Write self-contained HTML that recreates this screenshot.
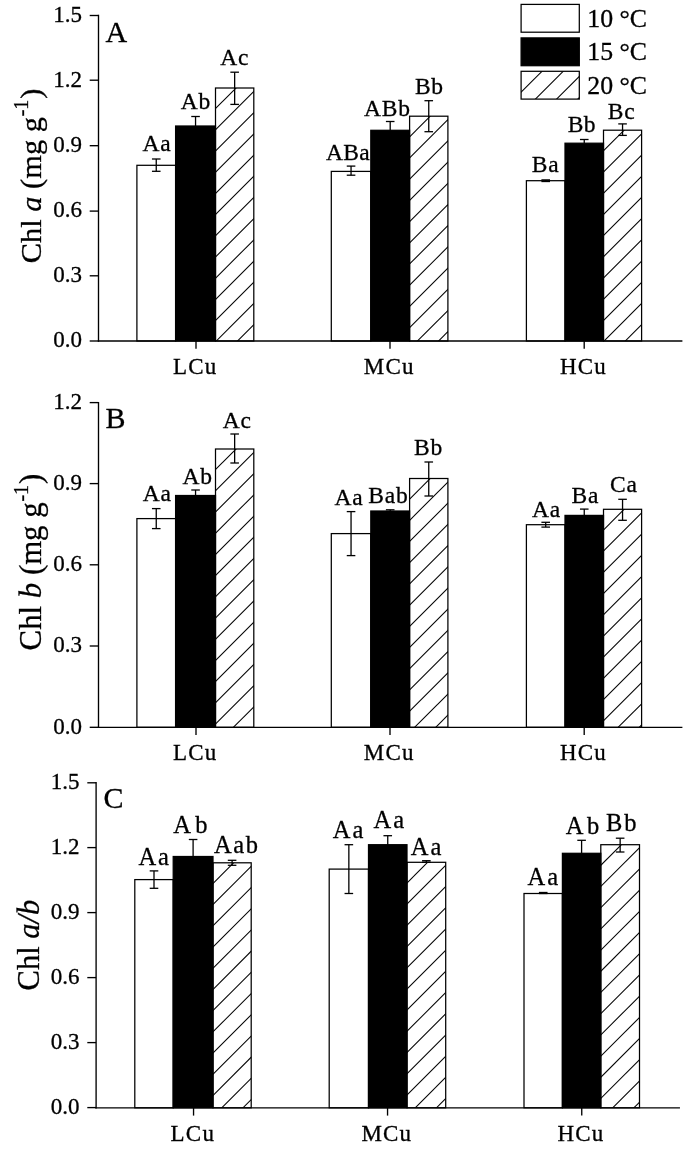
<!DOCTYPE html>
<html><head><meta charset="utf-8"><title>Chlorophyll</title>
<style>
html,body{margin:0;padding:0;background:#fff;}
body{width:685px;height:1159px;overflow:hidden;font-family:"Liberation Serif",serif;}
svg{display:block;filter:blur(0.3px);}
svg text{font-family:"Liberation Serif",serif;fill:#000;stroke:#000;stroke-width:0.3px;}
</style></head><body>
<svg width="685" height="1159" viewBox="0 0 685 1159">
<rect width="685" height="1159" fill="#fff"/>
<rect x="136.90" y="165.30" width="38.70" height="175.70" fill="#fff" stroke="#000" stroke-width="1.25"/>
<clipPath id="c1"><rect x="215.50" y="88.00" width="38.30" height="253.00"/></clipPath>
<rect x="215.50" y="88.00" width="38.30" height="253.00" fill="#fff"/>
<g clip-path="url(#c1)" stroke="#000" stroke-width="1.05">
<line x1="214.50" y1="109.60" x2="254.80" y2="69.30"/>
<line x1="214.50" y1="130.80" x2="254.80" y2="90.50"/>
<line x1="214.50" y1="152.00" x2="254.80" y2="111.70"/>
<line x1="214.50" y1="173.20" x2="254.80" y2="132.90"/>
<line x1="214.50" y1="194.40" x2="254.80" y2="154.10"/>
<line x1="214.50" y1="215.60" x2="254.80" y2="175.30"/>
<line x1="214.50" y1="236.80" x2="254.80" y2="196.50"/>
<line x1="214.50" y1="258.00" x2="254.80" y2="217.70"/>
<line x1="214.50" y1="279.20" x2="254.80" y2="238.90"/>
<line x1="214.50" y1="300.40" x2="254.80" y2="260.10"/>
<line x1="214.50" y1="321.60" x2="254.80" y2="281.30"/>
<line x1="214.50" y1="342.80" x2="254.80" y2="302.50"/>
<line x1="214.50" y1="364.00" x2="254.80" y2="323.70"/>
</g>
<rect x="215.50" y="88.00" width="38.30" height="253.00" fill="none" stroke="#000" stroke-width="1.25"/>
<rect x="175.60" y="126.00" width="39.90" height="215.00" fill="#000" stroke="#000" stroke-width="1.25"/>
<line x1="156.25" y1="159.00" x2="156.25" y2="171.30" stroke="#000" stroke-width="1.3"/>
<line x1="151.95" y1="159.00" x2="160.55" y2="159.00" stroke="#000" stroke-width="1.3"/>
<line x1="151.95" y1="171.30" x2="160.55" y2="171.30" stroke="#000" stroke-width="1.3"/>
<text x="157.00" y="150.80" font-size="23.5" text-anchor="middle" letter-spacing="0.8">Aa</text>
<line x1="195.55" y1="116.50" x2="195.55" y2="126.00" stroke="#000" stroke-width="1.3"/>
<line x1="191.25" y1="116.50" x2="199.85" y2="116.50" stroke="#000" stroke-width="1.3"/>
<text x="196.00" y="108.60" font-size="23.5" text-anchor="middle" letter-spacing="0.8">Ab</text>
<line x1="234.65" y1="72.20" x2="234.65" y2="104.40" stroke="#000" stroke-width="1.3"/>
<line x1="230.35" y1="72.20" x2="238.95" y2="72.20" stroke="#000" stroke-width="1.3"/>
<line x1="230.35" y1="104.40" x2="238.95" y2="104.40" stroke="#000" stroke-width="1.3"/>
<text x="234.70" y="65.20" font-size="23.5" text-anchor="middle" letter-spacing="0.8">Ac</text>
<rect x="331.30" y="171.40" width="39.50" height="169.60" fill="#fff" stroke="#000" stroke-width="1.25"/>
<clipPath id="c2"><rect x="409.60" y="116.20" width="38.30" height="224.80"/></clipPath>
<rect x="409.60" y="116.20" width="38.30" height="224.80" fill="#fff"/>
<g clip-path="url(#c2)" stroke="#000" stroke-width="1.05">
<line x1="408.60" y1="137.80" x2="448.90" y2="97.50"/>
<line x1="408.60" y1="159.00" x2="448.90" y2="118.70"/>
<line x1="408.60" y1="180.20" x2="448.90" y2="139.90"/>
<line x1="408.60" y1="201.40" x2="448.90" y2="161.10"/>
<line x1="408.60" y1="222.60" x2="448.90" y2="182.30"/>
<line x1="408.60" y1="243.80" x2="448.90" y2="203.50"/>
<line x1="408.60" y1="265.00" x2="448.90" y2="224.70"/>
<line x1="408.60" y1="286.20" x2="448.90" y2="245.90"/>
<line x1="408.60" y1="307.40" x2="448.90" y2="267.10"/>
<line x1="408.60" y1="328.60" x2="448.90" y2="288.30"/>
<line x1="408.60" y1="349.80" x2="448.90" y2="309.50"/>
<line x1="408.60" y1="371.00" x2="448.90" y2="330.70"/>
</g>
<rect x="409.60" y="116.20" width="38.30" height="224.80" fill="none" stroke="#000" stroke-width="1.25"/>
<rect x="370.80" y="130.30" width="38.80" height="210.70" fill="#000" stroke="#000" stroke-width="1.25"/>
<line x1="351.05" y1="166.10" x2="351.05" y2="175.20" stroke="#000" stroke-width="1.3"/>
<line x1="346.75" y1="166.10" x2="355.35" y2="166.10" stroke="#000" stroke-width="1.3"/>
<line x1="346.75" y1="175.20" x2="355.35" y2="175.20" stroke="#000" stroke-width="1.3"/>
<text x="348.05" y="160.40" font-size="23.5" text-anchor="middle" letter-spacing="0.3">ABa</text>
<line x1="390.20" y1="121.50" x2="390.20" y2="130.30" stroke="#000" stroke-width="1.3"/>
<line x1="385.90" y1="121.50" x2="394.50" y2="121.50" stroke="#000" stroke-width="1.3"/>
<text x="387.40" y="116.20" font-size="23.5" text-anchor="middle" letter-spacing="0.8">ABb</text>
<line x1="428.75" y1="100.70" x2="428.75" y2="131.70" stroke="#000" stroke-width="1.3"/>
<line x1="424.45" y1="100.70" x2="433.05" y2="100.70" stroke="#000" stroke-width="1.3"/>
<line x1="424.45" y1="131.70" x2="433.05" y2="131.70" stroke="#000" stroke-width="1.3"/>
<text x="429.40" y="93.90" font-size="23.5" text-anchor="middle" letter-spacing="0.8">Bb</text>
<rect x="526.40" y="180.70" width="38.60" height="160.30" fill="#fff" stroke="#000" stroke-width="1.25"/>
<clipPath id="c3"><rect x="603.50" y="130.20" width="38.10" height="210.80"/></clipPath>
<rect x="603.50" y="130.20" width="38.10" height="210.80" fill="#fff"/>
<g clip-path="url(#c3)" stroke="#000" stroke-width="1.05">
<line x1="602.50" y1="151.80" x2="642.60" y2="111.70"/>
<line x1="602.50" y1="173.00" x2="642.60" y2="132.90"/>
<line x1="602.50" y1="194.20" x2="642.60" y2="154.10"/>
<line x1="602.50" y1="215.40" x2="642.60" y2="175.30"/>
<line x1="602.50" y1="236.60" x2="642.60" y2="196.50"/>
<line x1="602.50" y1="257.80" x2="642.60" y2="217.70"/>
<line x1="602.50" y1="279.00" x2="642.60" y2="238.90"/>
<line x1="602.50" y1="300.20" x2="642.60" y2="260.10"/>
<line x1="602.50" y1="321.40" x2="642.60" y2="281.30"/>
<line x1="602.50" y1="342.60" x2="642.60" y2="302.50"/>
<line x1="602.50" y1="363.80" x2="642.60" y2="323.70"/>
</g>
<rect x="603.50" y="130.20" width="38.10" height="210.80" fill="none" stroke="#000" stroke-width="1.25"/>
<rect x="565.00" y="143.20" width="38.50" height="197.80" fill="#000" stroke="#000" stroke-width="1.25"/>
<line x1="545.70" y1="179.90" x2="545.70" y2="181.50" stroke="#000" stroke-width="1.3"/>
<line x1="541.40" y1="179.90" x2="550.00" y2="179.90" stroke="#000" stroke-width="1.3"/>
<line x1="541.40" y1="181.50" x2="550.00" y2="181.50" stroke="#000" stroke-width="1.3"/>
<text x="545.70" y="171.70" font-size="23.5" text-anchor="middle" letter-spacing="0.8">Ba</text>
<line x1="584.25" y1="139.50" x2="584.25" y2="143.20" stroke="#000" stroke-width="1.3"/>
<line x1="579.95" y1="139.50" x2="588.55" y2="139.50" stroke="#000" stroke-width="1.3"/>
<text x="581.75" y="131.90" font-size="23.5" text-anchor="middle" letter-spacing="0.3">Bb</text>
<line x1="622.55" y1="123.90" x2="622.55" y2="135.40" stroke="#000" stroke-width="1.3"/>
<line x1="618.25" y1="123.90" x2="626.85" y2="123.90" stroke="#000" stroke-width="1.3"/>
<line x1="618.25" y1="135.40" x2="626.85" y2="135.40" stroke="#000" stroke-width="1.3"/>
<text x="621.60" y="118.80" font-size="23.5" text-anchor="middle" letter-spacing="0.8">Bc</text>
<line x1="98.50" y1="14.82" x2="98.50" y2="341.68" stroke="#000" stroke-width="1.35"/>
<line x1="97.83" y1="341.00" x2="682.40" y2="341.00" stroke="#000" stroke-width="1.35"/>
<line x1="89.70" y1="15.50" x2="98.50" y2="15.50" stroke="#000" stroke-width="1.35"/>
<text x="81.90" y="21.80" font-size="23" text-anchor="end">1.5</text>
<line x1="89.70" y1="80.20" x2="98.50" y2="80.20" stroke="#000" stroke-width="1.35"/>
<text x="81.90" y="86.50" font-size="23" text-anchor="end">1.2</text>
<line x1="89.70" y1="145.70" x2="98.50" y2="145.70" stroke="#000" stroke-width="1.35"/>
<text x="81.90" y="152.00" font-size="23" text-anchor="end">0.9</text>
<line x1="89.70" y1="211.10" x2="98.50" y2="211.10" stroke="#000" stroke-width="1.35"/>
<text x="81.90" y="217.40" font-size="23" text-anchor="end">0.6</text>
<line x1="89.70" y1="275.80" x2="98.50" y2="275.80" stroke="#000" stroke-width="1.35"/>
<text x="81.90" y="282.10" font-size="23" text-anchor="end">0.3</text>
<line x1="89.70" y1="341.00" x2="98.50" y2="341.00" stroke="#000" stroke-width="1.35"/>
<text x="81.90" y="347.30" font-size="23" text-anchor="end">0.0</text>
<line x1="196.00" y1="341.00" x2="196.00" y2="348.80" stroke="#000" stroke-width="1.35"/>
<text x="195.30" y="373.90" font-size="23" text-anchor="middle" letter-spacing="1.2">LCu</text>
<line x1="390.00" y1="341.00" x2="390.00" y2="348.80" stroke="#000" stroke-width="1.35"/>
<text x="389.30" y="373.90" font-size="23" text-anchor="middle" letter-spacing="1.2">MCu</text>
<line x1="584.20" y1="341.00" x2="584.20" y2="348.80" stroke="#000" stroke-width="1.35"/>
<text x="583.50" y="373.90" font-size="23" text-anchor="middle" letter-spacing="1.2">HCu</text>
<text x="105.50" y="42.00" font-size="30" text-anchor="start">A</text>
<text transform="translate(41,263.2) rotate(-90)" font-size="30.4" text-anchor="start">Chl <tspan font-style="italic">a</tspan> (mg g<tspan font-size="20" dy="-13.5" dx="0.8">-1</tspan><tspan dy="13.5" dx="0.8">)</tspan></text>
<rect x="136.90" y="518.60" width="38.70" height="208.70" fill="#fff" stroke="#000" stroke-width="1.25"/>
<clipPath id="c4"><rect x="215.50" y="449.00" width="38.30" height="278.30"/></clipPath>
<rect x="215.50" y="449.00" width="38.30" height="278.30" fill="#fff"/>
<g clip-path="url(#c4)" stroke="#000" stroke-width="1.05">
<line x1="214.50" y1="470.60" x2="254.80" y2="430.30"/>
<line x1="214.50" y1="491.80" x2="254.80" y2="451.50"/>
<line x1="214.50" y1="513.00" x2="254.80" y2="472.70"/>
<line x1="214.50" y1="534.20" x2="254.80" y2="493.90"/>
<line x1="214.50" y1="555.40" x2="254.80" y2="515.10"/>
<line x1="214.50" y1="576.60" x2="254.80" y2="536.30"/>
<line x1="214.50" y1="597.80" x2="254.80" y2="557.50"/>
<line x1="214.50" y1="619.00" x2="254.80" y2="578.70"/>
<line x1="214.50" y1="640.20" x2="254.80" y2="599.90"/>
<line x1="214.50" y1="661.40" x2="254.80" y2="621.10"/>
<line x1="214.50" y1="682.60" x2="254.80" y2="642.30"/>
<line x1="214.50" y1="703.80" x2="254.80" y2="663.50"/>
<line x1="214.50" y1="725.00" x2="254.80" y2="684.70"/>
<line x1="214.50" y1="746.20" x2="254.80" y2="705.90"/>
</g>
<rect x="215.50" y="449.00" width="38.30" height="278.30" fill="none" stroke="#000" stroke-width="1.25"/>
<rect x="175.60" y="495.50" width="39.90" height="231.80" fill="#000" stroke="#000" stroke-width="1.25"/>
<line x1="156.25" y1="508.60" x2="156.25" y2="528.60" stroke="#000" stroke-width="1.3"/>
<line x1="151.95" y1="508.60" x2="160.55" y2="508.60" stroke="#000" stroke-width="1.3"/>
<line x1="151.95" y1="528.60" x2="160.55" y2="528.60" stroke="#000" stroke-width="1.3"/>
<text x="157.30" y="500.50" font-size="23.5" text-anchor="middle" letter-spacing="0.8">Aa</text>
<line x1="195.55" y1="490.00" x2="195.55" y2="495.50" stroke="#000" stroke-width="1.3"/>
<line x1="191.25" y1="490.00" x2="199.85" y2="490.00" stroke="#000" stroke-width="1.3"/>
<text x="197.70" y="484.10" font-size="23.5" text-anchor="middle" letter-spacing="0.8">Ab</text>
<line x1="234.65" y1="434.00" x2="234.65" y2="463.00" stroke="#000" stroke-width="1.3"/>
<line x1="230.35" y1="434.00" x2="238.95" y2="434.00" stroke="#000" stroke-width="1.3"/>
<line x1="230.35" y1="463.00" x2="238.95" y2="463.00" stroke="#000" stroke-width="1.3"/>
<text x="237.20" y="428.30" font-size="23.5" text-anchor="middle" letter-spacing="0.8">Ac</text>
<rect x="331.30" y="533.60" width="39.50" height="193.70" fill="#fff" stroke="#000" stroke-width="1.25"/>
<clipPath id="c5"><rect x="409.60" y="478.50" width="38.30" height="248.80"/></clipPath>
<rect x="409.60" y="478.50" width="38.30" height="248.80" fill="#fff"/>
<g clip-path="url(#c5)" stroke="#000" stroke-width="1.05">
<line x1="408.60" y1="500.10" x2="448.90" y2="459.80"/>
<line x1="408.60" y1="521.30" x2="448.90" y2="481.00"/>
<line x1="408.60" y1="542.50" x2="448.90" y2="502.20"/>
<line x1="408.60" y1="563.70" x2="448.90" y2="523.40"/>
<line x1="408.60" y1="584.90" x2="448.90" y2="544.60"/>
<line x1="408.60" y1="606.10" x2="448.90" y2="565.80"/>
<line x1="408.60" y1="627.30" x2="448.90" y2="587.00"/>
<line x1="408.60" y1="648.50" x2="448.90" y2="608.20"/>
<line x1="408.60" y1="669.70" x2="448.90" y2="629.40"/>
<line x1="408.60" y1="690.90" x2="448.90" y2="650.60"/>
<line x1="408.60" y1="712.10" x2="448.90" y2="671.80"/>
<line x1="408.60" y1="733.30" x2="448.90" y2="693.00"/>
<line x1="408.60" y1="754.50" x2="448.90" y2="714.20"/>
</g>
<rect x="409.60" y="478.50" width="38.30" height="248.80" fill="none" stroke="#000" stroke-width="1.25"/>
<rect x="370.80" y="511.00" width="38.80" height="216.30" fill="#000" stroke="#000" stroke-width="1.25"/>
<line x1="351.05" y1="511.60" x2="351.05" y2="555.60" stroke="#000" stroke-width="1.3"/>
<line x1="346.75" y1="511.60" x2="355.35" y2="511.60" stroke="#000" stroke-width="1.3"/>
<line x1="346.75" y1="555.60" x2="355.35" y2="555.60" stroke="#000" stroke-width="1.3"/>
<text x="348.90" y="504.80" font-size="23.5" text-anchor="middle" letter-spacing="0.8">Aa</text>
<line x1="390.20" y1="509.80" x2="390.20" y2="511.00" stroke="#000" stroke-width="1.3"/>
<line x1="385.90" y1="509.80" x2="394.50" y2="509.80" stroke="#000" stroke-width="1.3"/>
<text x="388.40" y="503.10" font-size="23.5" text-anchor="middle" letter-spacing="0.8">Bab</text>
<line x1="428.75" y1="462.00" x2="428.75" y2="496.00" stroke="#000" stroke-width="1.3"/>
<line x1="424.45" y1="462.00" x2="433.05" y2="462.00" stroke="#000" stroke-width="1.3"/>
<line x1="424.45" y1="496.00" x2="433.05" y2="496.00" stroke="#000" stroke-width="1.3"/>
<text x="428.60" y="454.50" font-size="23.5" text-anchor="middle" letter-spacing="0.8">Bb</text>
<rect x="526.40" y="524.70" width="38.60" height="202.60" fill="#fff" stroke="#000" stroke-width="1.25"/>
<clipPath id="c6"><rect x="603.50" y="509.30" width="38.10" height="218.00"/></clipPath>
<rect x="603.50" y="509.30" width="38.10" height="218.00" fill="#fff"/>
<g clip-path="url(#c6)" stroke="#000" stroke-width="1.05">
<line x1="602.50" y1="530.90" x2="642.60" y2="490.80"/>
<line x1="602.50" y1="552.10" x2="642.60" y2="512.00"/>
<line x1="602.50" y1="573.30" x2="642.60" y2="533.20"/>
<line x1="602.50" y1="594.50" x2="642.60" y2="554.40"/>
<line x1="602.50" y1="615.70" x2="642.60" y2="575.60"/>
<line x1="602.50" y1="636.90" x2="642.60" y2="596.80"/>
<line x1="602.50" y1="658.10" x2="642.60" y2="618.00"/>
<line x1="602.50" y1="679.30" x2="642.60" y2="639.20"/>
<line x1="602.50" y1="700.50" x2="642.60" y2="660.40"/>
<line x1="602.50" y1="721.70" x2="642.60" y2="681.60"/>
<line x1="602.50" y1="742.90" x2="642.60" y2="702.80"/>
<line x1="602.50" y1="764.10" x2="642.60" y2="724.00"/>
</g>
<rect x="603.50" y="509.30" width="38.10" height="218.00" fill="none" stroke="#000" stroke-width="1.25"/>
<rect x="565.00" y="515.40" width="38.50" height="211.90" fill="#000" stroke="#000" stroke-width="1.25"/>
<line x1="545.70" y1="522.30" x2="545.70" y2="527.10" stroke="#000" stroke-width="1.3"/>
<line x1="541.40" y1="522.30" x2="550.00" y2="522.30" stroke="#000" stroke-width="1.3"/>
<line x1="541.40" y1="527.10" x2="550.00" y2="527.10" stroke="#000" stroke-width="1.3"/>
<text x="546.60" y="516.60" font-size="23.5" text-anchor="middle" letter-spacing="0.8">Aa</text>
<line x1="584.25" y1="509.10" x2="584.25" y2="515.40" stroke="#000" stroke-width="1.3"/>
<line x1="579.95" y1="509.10" x2="588.55" y2="509.10" stroke="#000" stroke-width="1.3"/>
<text x="585.40" y="502.80" font-size="23.5" text-anchor="middle" letter-spacing="0.8">Ba</text>
<line x1="622.55" y1="499.30" x2="622.55" y2="520.30" stroke="#000" stroke-width="1.3"/>
<line x1="618.25" y1="499.30" x2="626.85" y2="499.30" stroke="#000" stroke-width="1.3"/>
<line x1="618.25" y1="520.30" x2="626.85" y2="520.30" stroke="#000" stroke-width="1.3"/>
<text x="623.80" y="491.50" font-size="23.5" text-anchor="middle" letter-spacing="0.8">Ca</text>
<line x1="98.50" y1="401.93" x2="98.50" y2="727.97" stroke="#000" stroke-width="1.35"/>
<line x1="97.83" y1="727.30" x2="682.40" y2="727.30" stroke="#000" stroke-width="1.35"/>
<line x1="89.70" y1="402.60" x2="98.50" y2="402.60" stroke="#000" stroke-width="1.35"/>
<text x="81.90" y="408.90" font-size="23" text-anchor="end">1.2</text>
<line x1="89.70" y1="483.60" x2="98.50" y2="483.60" stroke="#000" stroke-width="1.35"/>
<text x="81.90" y="489.90" font-size="23" text-anchor="end">0.9</text>
<line x1="89.70" y1="564.80" x2="98.50" y2="564.80" stroke="#000" stroke-width="1.35"/>
<text x="81.90" y="571.10" font-size="23" text-anchor="end">0.6</text>
<line x1="89.70" y1="646.00" x2="98.50" y2="646.00" stroke="#000" stroke-width="1.35"/>
<text x="81.90" y="652.30" font-size="23" text-anchor="end">0.3</text>
<line x1="89.70" y1="727.30" x2="98.50" y2="727.30" stroke="#000" stroke-width="1.35"/>
<text x="81.90" y="733.60" font-size="23" text-anchor="end">0.0</text>
<line x1="196.00" y1="727.30" x2="196.00" y2="735.10" stroke="#000" stroke-width="1.35"/>
<text x="195.30" y="760.00" font-size="23" text-anchor="middle" letter-spacing="1.2">LCu</text>
<line x1="390.00" y1="727.30" x2="390.00" y2="735.10" stroke="#000" stroke-width="1.35"/>
<text x="389.30" y="760.00" font-size="23" text-anchor="middle" letter-spacing="1.2">MCu</text>
<line x1="584.20" y1="727.30" x2="584.20" y2="735.10" stroke="#000" stroke-width="1.35"/>
<text x="583.50" y="760.00" font-size="23" text-anchor="middle" letter-spacing="1.2">HCu</text>
<text x="105.50" y="428.00" font-size="30" text-anchor="start">B</text>
<text transform="translate(41,650.4) rotate(-90)" font-size="30.8" text-anchor="start">Chl <tspan font-style="italic">b</tspan> (mg g<tspan font-size="20" dy="-13.5" dx="0.8">-1</tspan><tspan dy="13.5" dx="0.8">)</tspan></text>
<rect x="134.80" y="879.60" width="38.40" height="228.20" fill="#fff" stroke="#000" stroke-width="1.25"/>
<clipPath id="c7"><rect x="213.00" y="862.80" width="38.20" height="245.00"/></clipPath>
<rect x="213.00" y="862.80" width="38.20" height="245.00" fill="#fff"/>
<g clip-path="url(#c7)" stroke="#000" stroke-width="1.05">
<line x1="212.00" y1="884.40" x2="252.20" y2="844.20"/>
<line x1="212.00" y1="905.60" x2="252.20" y2="865.40"/>
<line x1="212.00" y1="926.80" x2="252.20" y2="886.60"/>
<line x1="212.00" y1="948.00" x2="252.20" y2="907.80"/>
<line x1="212.00" y1="969.20" x2="252.20" y2="929.00"/>
<line x1="212.00" y1="990.40" x2="252.20" y2="950.20"/>
<line x1="212.00" y1="1011.60" x2="252.20" y2="971.40"/>
<line x1="212.00" y1="1032.80" x2="252.20" y2="992.60"/>
<line x1="212.00" y1="1054.00" x2="252.20" y2="1013.80"/>
<line x1="212.00" y1="1075.20" x2="252.20" y2="1035.00"/>
<line x1="212.00" y1="1096.40" x2="252.20" y2="1056.20"/>
<line x1="212.00" y1="1117.60" x2="252.20" y2="1077.40"/>
<line x1="212.00" y1="1138.80" x2="252.20" y2="1098.60"/>
</g>
<rect x="213.00" y="862.80" width="38.20" height="245.00" fill="none" stroke="#000" stroke-width="1.25"/>
<rect x="173.20" y="856.50" width="39.80" height="251.30" fill="#000" stroke="#000" stroke-width="1.25"/>
<line x1="154.00" y1="870.90" x2="154.00" y2="888.30" stroke="#000" stroke-width="1.3"/>
<line x1="149.70" y1="870.90" x2="158.30" y2="870.90" stroke="#000" stroke-width="1.3"/>
<line x1="149.70" y1="888.30" x2="158.30" y2="888.30" stroke="#000" stroke-width="1.3"/>
<text x="154.70" y="864.70" font-size="24.5" text-anchor="middle" letter-spacing="2.0">Aa</text>
<line x1="193.10" y1="839.50" x2="193.10" y2="856.50" stroke="#000" stroke-width="1.3"/>
<line x1="188.80" y1="839.50" x2="197.40" y2="839.50" stroke="#000" stroke-width="1.3"/>
<text x="192.55" y="833.30" font-size="24.5" text-anchor="middle" letter-spacing="4.3">Ab</text>
<line x1="232.10" y1="860.30" x2="232.10" y2="865.30" stroke="#000" stroke-width="1.3"/>
<line x1="227.80" y1="860.30" x2="236.40" y2="860.30" stroke="#000" stroke-width="1.3"/>
<line x1="227.80" y1="865.30" x2="236.40" y2="865.30" stroke="#000" stroke-width="1.3"/>
<text x="236.80" y="853.30" font-size="24.5" text-anchor="middle" letter-spacing="1.6">Aab</text>
<rect x="329.20" y="869.10" width="39.30" height="238.70" fill="#fff" stroke="#000" stroke-width="1.25"/>
<clipPath id="c8"><rect x="407.00" y="862.30" width="38.70" height="245.50"/></clipPath>
<rect x="407.00" y="862.30" width="38.70" height="245.50" fill="#fff"/>
<g clip-path="url(#c8)" stroke="#000" stroke-width="1.05">
<line x1="406.00" y1="883.90" x2="446.70" y2="843.20"/>
<line x1="406.00" y1="905.10" x2="446.70" y2="864.40"/>
<line x1="406.00" y1="926.30" x2="446.70" y2="885.60"/>
<line x1="406.00" y1="947.50" x2="446.70" y2="906.80"/>
<line x1="406.00" y1="968.70" x2="446.70" y2="928.00"/>
<line x1="406.00" y1="989.90" x2="446.70" y2="949.20"/>
<line x1="406.00" y1="1011.10" x2="446.70" y2="970.40"/>
<line x1="406.00" y1="1032.30" x2="446.70" y2="991.60"/>
<line x1="406.00" y1="1053.50" x2="446.70" y2="1012.80"/>
<line x1="406.00" y1="1074.70" x2="446.70" y2="1034.00"/>
<line x1="406.00" y1="1095.90" x2="446.70" y2="1055.20"/>
<line x1="406.00" y1="1117.10" x2="446.70" y2="1076.40"/>
<line x1="406.00" y1="1138.30" x2="446.70" y2="1097.60"/>
</g>
<rect x="407.00" y="862.30" width="38.70" height="245.50" fill="none" stroke="#000" stroke-width="1.25"/>
<rect x="368.50" y="844.70" width="38.50" height="263.10" fill="#000" stroke="#000" stroke-width="1.25"/>
<line x1="348.85" y1="844.70" x2="348.85" y2="893.50" stroke="#000" stroke-width="1.3"/>
<line x1="344.55" y1="844.70" x2="353.15" y2="844.70" stroke="#000" stroke-width="1.3"/>
<line x1="344.55" y1="893.50" x2="353.15" y2="893.50" stroke="#000" stroke-width="1.3"/>
<text x="349.00" y="837.70" font-size="24.5" text-anchor="middle" letter-spacing="2.0">Aa</text>
<line x1="387.75" y1="835.70" x2="387.75" y2="844.70" stroke="#000" stroke-width="1.3"/>
<line x1="383.45" y1="835.70" x2="392.05" y2="835.70" stroke="#000" stroke-width="1.3"/>
<text x="389.80" y="827.60" font-size="24.5" text-anchor="middle" letter-spacing="2.0">Aa</text>
<line x1="426.35" y1="860.70" x2="426.35" y2="862.30" stroke="#000" stroke-width="1.3"/>
<line x1="422.05" y1="860.70" x2="430.65" y2="860.70" stroke="#000" stroke-width="1.3"/>
<line x1="422.05" y1="862.30" x2="430.65" y2="862.30" stroke="#000" stroke-width="1.3"/>
<text x="427.10" y="854.50" font-size="24.5" text-anchor="middle" letter-spacing="2.0">Aa</text>
<rect x="524.00" y="893.50" width="38.40" height="214.30" fill="#fff" stroke="#000" stroke-width="1.25"/>
<clipPath id="c9"><rect x="600.80" y="844.70" width="38.70" height="263.10"/></clipPath>
<rect x="600.80" y="844.70" width="38.70" height="263.10" fill="#fff"/>
<g clip-path="url(#c9)" stroke="#000" stroke-width="1.05">
<line x1="599.80" y1="866.30" x2="640.50" y2="825.60"/>
<line x1="599.80" y1="887.50" x2="640.50" y2="846.80"/>
<line x1="599.80" y1="908.70" x2="640.50" y2="868.00"/>
<line x1="599.80" y1="929.90" x2="640.50" y2="889.20"/>
<line x1="599.80" y1="951.10" x2="640.50" y2="910.40"/>
<line x1="599.80" y1="972.30" x2="640.50" y2="931.60"/>
<line x1="599.80" y1="993.50" x2="640.50" y2="952.80"/>
<line x1="599.80" y1="1014.70" x2="640.50" y2="974.00"/>
<line x1="599.80" y1="1035.90" x2="640.50" y2="995.20"/>
<line x1="599.80" y1="1057.10" x2="640.50" y2="1016.40"/>
<line x1="599.80" y1="1078.30" x2="640.50" y2="1037.60"/>
<line x1="599.80" y1="1099.50" x2="640.50" y2="1058.80"/>
<line x1="599.80" y1="1120.70" x2="640.50" y2="1080.00"/>
<line x1="599.80" y1="1141.90" x2="640.50" y2="1101.20"/>
</g>
<rect x="600.80" y="844.70" width="38.70" height="263.10" fill="none" stroke="#000" stroke-width="1.25"/>
<rect x="562.40" y="853.30" width="38.40" height="254.50" fill="#000" stroke="#000" stroke-width="1.25"/>
<line x1="543.20" y1="892.50" x2="543.20" y2="893.50" stroke="#000" stroke-width="1.3"/>
<line x1="538.90" y1="892.50" x2="547.50" y2="892.50" stroke="#000" stroke-width="1.3"/>
<line x1="538.90" y1="893.50" x2="547.50" y2="893.50" stroke="#000" stroke-width="1.3"/>
<text x="543.90" y="884.90" font-size="24.5" text-anchor="middle" letter-spacing="2.0">Aa</text>
<line x1="581.60" y1="840.30" x2="581.60" y2="853.30" stroke="#000" stroke-width="1.3"/>
<line x1="577.30" y1="840.30" x2="585.90" y2="840.30" stroke="#000" stroke-width="1.3"/>
<text x="584.40" y="833.70" font-size="24.5" text-anchor="middle" letter-spacing="3.6">Ab</text>
<line x1="620.15" y1="838.20" x2="620.15" y2="852.00" stroke="#000" stroke-width="1.3"/>
<line x1="615.85" y1="838.20" x2="624.45" y2="838.20" stroke="#000" stroke-width="1.3"/>
<line x1="615.85" y1="852.00" x2="624.45" y2="852.00" stroke="#000" stroke-width="1.3"/>
<text x="622.30" y="831.10" font-size="24.5" text-anchor="middle" letter-spacing="2.0">Bb</text>
<line x1="96.10" y1="782.12" x2="96.10" y2="1108.47" stroke="#000" stroke-width="1.35"/>
<line x1="95.42" y1="1107.80" x2="679.95" y2="1107.80" stroke="#000" stroke-width="1.35"/>
<line x1="87.30" y1="782.80" x2="96.10" y2="782.80" stroke="#000" stroke-width="1.35"/>
<text x="79.50" y="789.10" font-size="23" text-anchor="end">1.5</text>
<line x1="87.30" y1="847.60" x2="96.10" y2="847.60" stroke="#000" stroke-width="1.35"/>
<text x="79.50" y="853.90" font-size="23" text-anchor="end">1.2</text>
<line x1="87.30" y1="912.60" x2="96.10" y2="912.60" stroke="#000" stroke-width="1.35"/>
<text x="79.50" y="918.90" font-size="23" text-anchor="end">0.9</text>
<line x1="87.30" y1="977.60" x2="96.10" y2="977.60" stroke="#000" stroke-width="1.35"/>
<text x="79.50" y="983.90" font-size="23" text-anchor="end">0.6</text>
<line x1="87.30" y1="1042.60" x2="96.10" y2="1042.60" stroke="#000" stroke-width="1.35"/>
<text x="79.50" y="1048.90" font-size="23" text-anchor="end">0.3</text>
<line x1="87.30" y1="1107.60" x2="96.10" y2="1107.60" stroke="#000" stroke-width="1.35"/>
<text x="79.50" y="1113.90" font-size="23" text-anchor="end">0.0</text>
<line x1="193.55" y1="1107.80" x2="193.55" y2="1115.60" stroke="#000" stroke-width="1.35"/>
<text x="192.85" y="1141.10" font-size="23" text-anchor="middle" letter-spacing="1.2">LCu</text>
<line x1="387.55" y1="1107.80" x2="387.55" y2="1115.60" stroke="#000" stroke-width="1.35"/>
<text x="386.85" y="1141.10" font-size="23" text-anchor="middle" letter-spacing="1.2">MCu</text>
<line x1="581.75" y1="1107.80" x2="581.75" y2="1115.60" stroke="#000" stroke-width="1.35"/>
<text x="581.05" y="1141.10" font-size="23" text-anchor="middle" letter-spacing="1.2">HCu</text>
<text x="103.50" y="808.00" font-size="30" text-anchor="start">C</text>
<text transform="translate(38.7,990.4) rotate(-90)" font-size="30.5" text-anchor="start">Chl <tspan font-style="italic">a/b</tspan></text>
<rect x="521.1" y="4.4" width="58.2" height="27.8" fill="#fff" stroke="#000" stroke-width="1.25"/>
<text x="587.3" y="26.60" font-size="25.8" text-anchor="start">10 °C</text>
<rect x="521.1" y="37.9" width="58.2" height="27.8" fill="#000" stroke="#000" stroke-width="1.25"/>
<text x="587.3" y="60.10" font-size="25.8" text-anchor="start">15 °C</text>
<clipPath id="c10"><rect x="521.10" y="71.30" width="58.20" height="27.80"/></clipPath>
<rect x="521.10" y="71.30" width="58.20" height="27.80" fill="#fff"/>
<g clip-path="url(#c10)" stroke="#000" stroke-width="1.05">
<line x1="520.10" y1="93.20" x2="580.30" y2="33.00"/>
<line x1="520.10" y1="114.40" x2="580.30" y2="54.20"/>
<line x1="520.10" y1="135.60" x2="580.30" y2="75.40"/>
<line x1="520.10" y1="156.80" x2="580.30" y2="96.60"/>
</g>
<rect x="521.10" y="71.30" width="58.20" height="27.80" fill="none" stroke="#000" stroke-width="1.25"/>
<text x="587.3" y="93.50" font-size="25.8" text-anchor="start">20 °C</text>
</svg></body></html>
